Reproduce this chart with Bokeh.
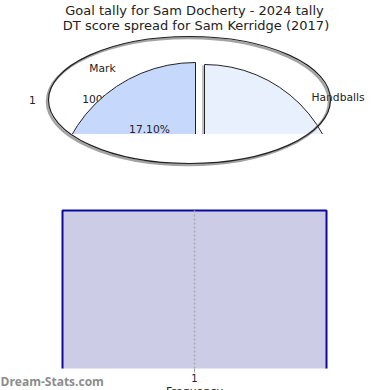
import math
from bokeh.plotting import figure
from bokeh.models import Range1d, LinearAxis, FixedTicker
from bokeh.core.properties import value
from bokeh.embed import file_html
from bokeh.resources import INLINE

# ---------------- data ----------------
title_lines = ["Goal tally for Sam Docherty - 2024 tally",
               "DT score spread for Sam Kerridge (2017)"]
slice_labels = ["Handballs", "Mark"]
slice_shares = [0.25, 0.25]
slice_colors = ["#e9f0fd", "#c6d9fd"]
pct_text = "17.10%"
side_texts = ["1", "100%"]
hist_edges = [0.5, 1.5]
hist_counts = [1]
x_ticks = [1]
x_title = "Frequency"
watermark = "Dream-Stats.com"

FONT = value("DejaVu Sans")
W = H = 390

# ---------------- figure: main range = page pixels (y up) ----------------
p = figure(width=W, height=H, x_range=Range1d(0, W), y_range=Range1d(0, H),
           x_axis_type=None, y_axis_type=None, output_backend="svg",
           toolbar_location=None, min_border=0)
p.grid.visible = False
p.outline_line_color = None

# histogram ranges: bar edges land at pixel columns 62..326, counts 0..1 at rows 368..210
HL, HR, HT, HB = 62, 326, 210, 368
xs = (HR - HL) / (hist_edges[-1] - hist_edges[0])
ys = (HB - HT) / max(hist_counts)
p.extra_x_ranges = {"hx": Range1d(hist_edges[0] - HL / xs, hist_edges[-1] + (W - HR) / xs)}
p.extra_y_ranges = {"hy": Range1d(-(H - HB) / ys, max(hist_counts) + HT / ys)}

# ---------------- pie ----------------
base_x, base_y = 199.5, 188.5
explode = {"Handballs": (4.5, 2.5), "Mark": (-4.5, -2.5)}
radii = {"Handballs": 135, "Mark": 142}
label_pos = {"Handballs": (337.5, 293), "Mark": (102, 322.5)}

for lab in slice_labels:
    lx, ly = label_pos[lab]
    p.text(x=[lx], y=[ly], text=[lab], text_font=FONT, text_font_size="10.7px",
           text_color="#222222", text_align="center", text_baseline="middle")
p.text(x=[32], y=[291], text=[side_texts[0]], text_font=FONT, text_font_size="10.7px",
       text_color="#222222", text_align="center", text_baseline="middle")
p.text(x=[81.7], y=[291], text=[side_texts[1]], text_font=FONT, text_font_size="10.7px",
       text_color="#222222", text_align="left", text_baseline="middle")

start = 0.0
for lab, share, col in zip(slice_labels, slice_shares, slice_colors):
    end = start + share * 2 * math.pi
    ox, oy = explode[lab]
    cx, cy = base_x + ox, base_y + oy
    if lab == "Handballs":
        p.wedge(x=[cx - 2.5], y=[cy - 1], radius=radii[lab], start_angle=start, end_angle=end,
                fill_color="#777777", fill_alpha=0.45, line_color=None)
    p.wedge(x=[cx], y=[cy], radius=radii[lab], start_angle=start, end_angle=end,
            fill_color=col, line_color="#222222", line_width=1)
    start = end

p.text(x=[149], y=[261], text=[pct_text], text_font=FONT, text_font_size="10.7px",
       text_color="#222222", text_align="center", text_baseline="middle")

# horizontal cut of the pie
p.quad(left=[0], right=[W], bottom=[184], top=[256.5], fill_color="white", line_color=None)

# ellipse outline with shadow
p.ellipse(x=[187.5], y=[289], width=282, height=127, fill_color=None,
          line_color="#666666", line_width=2.5, line_alpha=0.6)
p.ellipse(x=[189], y=[290.5], width=282, height=127, fill_color=None,
          line_color="#222222", line_width=1.2)

p.text(x=[194, 195.5], y=[380, 365], text=title_lines, text_font=FONT, text_font_size="13px",
       text_color="#222222", text_align="center", text_baseline="middle")

# ---------------- histogram ----------------
p.quad(left=hist_edges[:-1], right=hist_edges[1:], bottom=[0] * len(hist_counts), top=hist_counts,
       fill_color="#cccce6", line_color=None, x_range_name="hx", y_range_name="hy")
for l, r, c in zip(hist_edges[:-1], hist_edges[1:], hist_counts):
    p.line(x=[l, l, r, r], y=[0, c, c, 0], line_color="#0a0a9e", line_width=2,
           x_range_name="hx", y_range_name="hy")
p.segment(x0=x_ticks, y0=[0] * len(x_ticks), x1=x_ticks, y1=[max(hist_counts)] * len(x_ticks),
          line_color="#a8a8b0", line_dash="2 2", line_width=1.5,
          x_range_name="hx", y_range_name="hy")

ax = LinearAxis(x_range_name="hx", y_range_name="hy", fixed_location=0,
                ticker=FixedTicker(ticks=x_ticks))
ax.axis_line_color = None
ax.major_tick_line_color = "#a8a8b0"
ax.major_tick_in = 0
ax.major_tick_out = 4
ax.minor_tick_line_color = None
ax.major_label_standoff = 1
ax.major_label_text_font = "DejaVu Sans"
ax.major_label_text_font_size = "10px"
ax.major_label_text_color = "#222222"
p.add_layout(ax, "below")

p.text(x=[sum(hist_edges) / len(hist_edges)], y=[-(384 - HB) / ys], text=[x_title],
       text_font=FONT, text_font_size="11px", text_color="#222222",
       text_align="center", text_baseline="top", x_range_name="hx", y_range_name="hy")

p.text(x=[0], y=[9], text=[watermark], text_font=value("Open Sans"), text_font_size="12px",
       text_font_style="bold", text_color="#8c8c8c", text_align="left", text_baseline="middle")

open("out.html", "w").write(file_html(p, INLINE))
